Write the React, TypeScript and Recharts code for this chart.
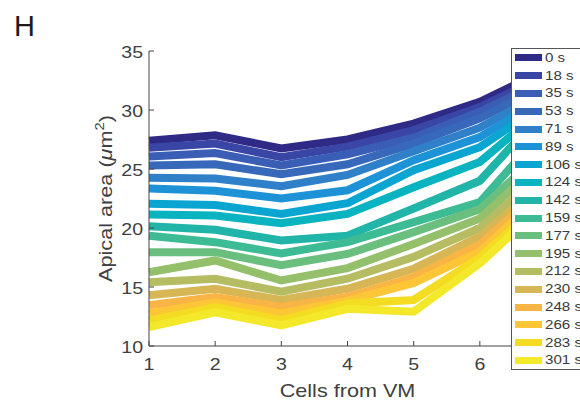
import React from 'react';
import { LineChart, Line, XAxis, YAxis, Legend } from 'recharts';

const cells = [1, 2, 3, 4, 5, 6, 7];
const xTickLabels = [1, 2, 3, 4, 5, 6];
const yTicks = [10, 15, 20, 25, 30, 35];
const timeLabels = ['0 s', '18 s', '35 s', '53 s', '71 s', '89 s', '106 s', '124 s', '142 s', '159 s', '177 s', '195 s', '212 s', '230 s', '248 s', '266 s', '283 s', '301 s'];
const colors = ['#2e2a86', '#3a46a6', '#3a5db5', '#3868ba', '#2f80c8', '#1d92d6', '#0aa5d0', '#0ab3c0', '#20b5a8', '#3cbb94', '#6abe7e', '#94c06c', '#b5bc62', '#d7b755', '#f8b445', '#fcc636', '#f3dc22', '#f3e92a'];

const t0 = [27.4, 27.85, 26.75, 27.5, 28.85, 30.7, 33.4];
const t18 = [26.8, 27.15, 26.0, 26.9, 28.3, 30.25, 32.9];
const t35 = [26.05, 26.35, 25.3, 26.25, 27.65, 29.85, 32.5];
const t53 = [25.3, 25.4, 24.55, 25.4, 27.15, 29.3, 32.1];
const t71 = [24.25, 24.2, 23.55, 24.5, 26.5, 28.5, 31.6];
const t89 = [23.35, 23.15, 22.5, 23.2, 25.75, 27.7, 31.1];
const t106 = [22.05, 21.95, 21.2, 22.1, 24.9, 26.85, 30.6];
const t124 = [21.15, 21.05, 20.4, 21.2, 23.45, 25.6, 30.3];
const t142 = [20.15, 19.85, 18.95, 19.35, 21.65, 24.0, 30.1];
const t159 = [19.35, 18.8, 17.85, 18.8, 20.5, 22.2, 28.5];
const t177 = [17.95, 17.95, 16.85, 17.8, 19.65, 21.6, 26.7];
const t195 = [16.25, 17.25, 15.55, 16.6, 18.65, 20.8, 25.9];
const t212 = [15.4, 15.7, 14.6, 15.7, 17.55, 20.0, 24.9];
const t230 = [14.3, 14.85, 13.9, 14.85, 16.55, 19.3, 24.0];
const t248 = [13.45, 14.15, 13.3, 14.15, 15.85, 18.6, 23.5];
const t266 = [12.75, 13.7, 12.75, 13.85, 15.35, 18.0, 23.1];
const t283 = [12.15, 13.3, 12.2, 13.6, 13.9, 17.5, 22.4];
const t301 = [11.6, 12.85, 11.75, 13.15, 12.9, 17.0, 22.1];

const seriesValues = [t0, t18, t35, t53, t71, t89, t106, t124, t142, t159, t177, t195, t212, t230, t248, t266, t283, t301];

const data = cells.map((c, i) => {
  const row: any = { cell: c };
  seriesValues.forEach((s, k) => {
    row['s' + k] = s[i];
  });
  return row;
});

const FONT = '"Liberation Sans", Arial, Helvetica, sans-serif';
const TXT = '#404040';
const AX = '#444444';

const BottomTick = (props: any) => {
  const { x, y, payload } = props;
  const showLabel = xTickLabels.includes(payload.value);
  return (
    <g>
      <line x1={x} y1={y} x2={x} y2={y - 5} stroke={AX} strokeWidth={1} />
      {showLabel && (
        <text transform={`translate(${x},${y + 24}) scale(1.15,1)`} textAnchor="middle" fontSize={17} fontFamily={FONT} fill={TXT}>
          {payload.value}
        </text>
      )}
    </g>
  );
};

const TopTick = (props: any) => {
  const { x, y } = props;
  return <line x1={x} y1={y} x2={x} y2={y + 5} stroke={AX} strokeWidth={1} />;
};

const LeftTick = (props: any) => {
  const { x, y, payload } = props;
  return (
    <g>
      <line x1={x} y1={y} x2={x + 5} y2={y} stroke={AX} strokeWidth={1} />
      <text transform={`translate(${x - 6},${y + 7}) scale(1.15,1)`} textAnchor="end" fontSize={17} fontFamily={FONT} fill={TXT}>
        {payload.value}
      </text>
    </g>
  );
};

const XTitle = (p: any) => {
  const vb = p.viewBox || { x: 149, y: 346, width: 397, height: 58 };
  const cx = vb.x + vb.width / 2;
  return (
    <text transform={`translate(${cx},${vb.y + 51}) scale(1.2,1)`} textAnchor="middle" fontSize={18} fontFamily={FONT} fill={TXT}>
      Cells from VM
    </text>
  );
};

const YTitle = (p: any) => {
  const vb = p.viewBox || { x: 0, y: 51, width: 149, height: 295 };
  const cy = vb.y + vb.height / 2;
  return (
    <text transform={`translate(112,${cy}) rotate(-90) scale(1.14,1)`} textAnchor="middle" fontSize={19} fontFamily={FONT} fill={TXT}>
      <tspan>Apical area (</tspan>
      <tspan fontStyle="italic">μ</tspan>
      <tspan>m</tspan>
      <tspan fontSize={13} dy={-8}>2</tspan>
      <tspan dy={8}>)</tspan>
    </text>
  );
};

const LegendBox = () => (
  <div
    style={{
      width: 90,
      height: 322,
      border: '1px solid #555',
      background: '#fff',
      boxSizing: 'border-box',
      fontFamily: FONT,
    }}
  >
    {timeLabels.map((t, i) => (
      <div key={t} style={{ height: 17.8, display: 'flex', alignItems: 'center' }}>
        <span style={{ display: 'inline-block', width: 27, height: 7, background: colors[i], marginLeft: 3 }} />
        <span
          style={{
            display: 'inline-block',
            marginLeft: 2.5,
            fontSize: 13.5,
            lineHeight: '14px',
            color: '#3a3a3a',
            transform: 'scaleX(1.12)',
            transformOrigin: 'left center',
            whiteSpace: 'nowrap',
          }}
        >
          {t}
        </span>
      </div>
    ))}
  </div>
);

export default function App() {
  return (
    <div style={{ position: 'absolute', left: 0, top: 0, width: 580, height: 404, overflow: 'hidden', background: '#fff' }}>
      <LineChart width={580} height={404} data={data} margin={{ top: 51, right: 34, left: 0, bottom: 0 }}>
        <XAxis
          xAxisId="b"
          dataKey="cell"
          type="number"
          domain={[1, 7]}
          ticks={cells}
          height={58}
          tickSize={0}
          tickMargin={0}
          tickLine={false}
          axisLine={{ stroke: AX, strokeWidth: 1 }}
          tick={<BottomTick />}
          interval={0}
          label={{ value: 'Cells from VM', content: XTitle }}
        />
        <XAxis
          xAxisId="t"
          orientation="top"
          dataKey="cell"
          type="number"
          domain={[1, 7]}
          ticks={cells}
          height={0}
          tickSize={0}
          tickMargin={0}
          tickLine={false}
          axisLine={{ stroke: AX, strokeWidth: 1 }}
          tick={<TopTick />}
          interval={0}
        />
        <YAxis
          type="number"
          domain={[10, 35]}
          ticks={yTicks}
          width={149}
          tickSize={0}
          tickMargin={0}
          tickLine={false}
          axisLine={{ stroke: AX, strokeWidth: 1 }}
          tick={<LeftTick />}
          interval={0}
          label={{ value: 'Apical area', content: YTitle }}
        />
        {seriesValues.map((_, k) => (
          <Line
            key={k}
            xAxisId="b"
            dataKey={'s' + k}
            name={timeLabels[k]}
            stroke={colors[k]}
            strokeWidth={8}
            dot={false}
            activeDot={false}
            type="linear"
            isAnimationActive={false}
          />
        ))}
        <Legend
          layout="vertical"
          align="center"
          verticalAlign="middle"
          content={<LegendBox />}
          wrapperStyle={{ position: 'absolute', left: 511, top: 48, width: 90, height: 322 }}
        />
      </LineChart>
      <svg style={{ position: 'absolute', left: 0, top: 0 }} width={60} height={50}>
        <text x={14} y={36} fontSize={29} fontFamily={FONT} fill="#1a1a1a">H</text>
      </svg>
    </div>
  );
}
